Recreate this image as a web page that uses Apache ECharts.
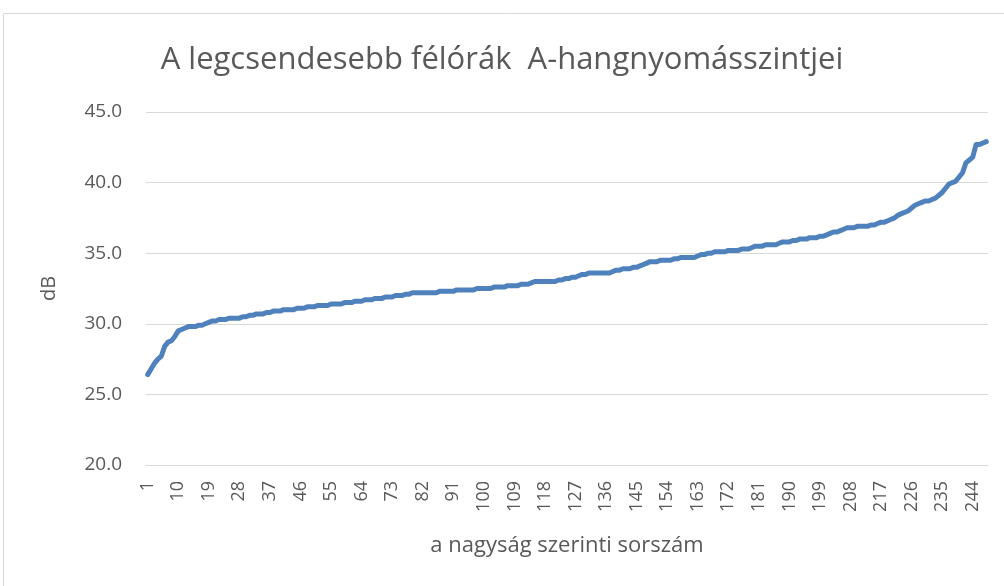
<!DOCTYPE html>
<html>
<head>
<meta charset="utf-8">
<script src="https://cdn.jsdelivr.net/npm/echarts@6/dist/echarts.min.js"></script>
<style>
  html, body { margin: 0; padding: 0; background: #fff; }
  #chart { width: 1004px; height: 586px; }
</style>
</head>
<body>
<div id="chart"></div>
<script>
// sorszám 1..248
const categories = [];
for (let i = 1; i <= 248; i++) categories.push(String(i));

// dB értékek (nagyság szerint rendezve)
const levels = [
  26.4, 26.8, 27.2, 27.5, 27.7, 28.4, 28.7, 28.8, 29.1, 29.5,
  29.6, 29.7, 29.8, 29.8, 29.8, 29.9, 29.9, 30.0, 30.1, 30.2,
  30.2, 30.3, 30.3, 30.3, 30.4, 30.4, 30.4, 30.4, 30.5, 30.5,
  30.6, 30.6, 30.7, 30.7, 30.7, 30.8, 30.8, 30.9, 30.9, 30.9,
  31.0, 31.0, 31.0, 31.0, 31.1, 31.1, 31.1, 31.2, 31.2, 31.2,
  31.3, 31.3, 31.3, 31.3, 31.4, 31.4, 31.4, 31.4, 31.5, 31.5,
  31.5, 31.6, 31.6, 31.6, 31.7, 31.7, 31.7, 31.8, 31.8, 31.8,
  31.9, 31.9, 31.9, 32.0, 32.0, 32.0, 32.1, 32.1, 32.2, 32.2,
  32.2, 32.2, 32.2, 32.2, 32.2, 32.2, 32.3, 32.3, 32.3, 32.3,
  32.3, 32.4, 32.4, 32.4, 32.4, 32.4, 32.4, 32.5, 32.5, 32.5,
  32.5, 32.5, 32.6, 32.6, 32.6, 32.6, 32.7, 32.7, 32.7, 32.7,
  32.8, 32.8, 32.8, 32.9, 33.0, 33.0, 33.0, 33.0, 33.0, 33.0,
  33.0, 33.1, 33.1, 33.2, 33.2, 33.3, 33.3, 33.4, 33.5, 33.5,
  33.6, 33.6, 33.6, 33.6, 33.6, 33.6, 33.6, 33.7, 33.8, 33.8,
  33.9, 33.9, 33.9, 34.0, 34.0, 34.1, 34.2, 34.3, 34.4, 34.4,
  34.4, 34.5, 34.5, 34.5, 34.5, 34.6, 34.6, 34.7, 34.7, 34.7,
  34.7, 34.7, 34.8, 34.9, 34.9, 35.0, 35.0, 35.1, 35.1, 35.1,
  35.1, 35.2, 35.2, 35.2, 35.2, 35.3, 35.3, 35.3, 35.4, 35.5,
  35.5, 35.5, 35.6, 35.6, 35.6, 35.6, 35.7, 35.8, 35.8, 35.8,
  35.9, 35.9, 36.0, 36.0, 36.0, 36.1, 36.1, 36.1, 36.2, 36.2,
  36.3, 36.4, 36.5, 36.5, 36.6, 36.7, 36.8, 36.8, 36.8, 36.9,
  36.9, 36.9, 36.9, 37.0, 37.0, 37.1, 37.2, 37.2, 37.3, 37.4,
  37.5, 37.7, 37.8, 37.9, 38.0, 38.2, 38.4, 38.5, 38.6, 38.7,
  38.7, 38.8, 38.9, 39.1, 39.3, 39.6, 39.9, 40.0, 40.1, 40.4,
  40.7, 41.4, 41.6, 41.8, 42.7, 42.7, 42.8, 42.9
];

const chart = echarts.init(document.getElementById("chart"));
const textColor = "#595959";
const gridColor = "#d9d9d9";

chart.setOption({
  animation: false,
  title: {
    text: "A legcsendesebb félórák  A-hangnyomásszintjei",
    left: "center",
    top: 40,
    textStyle: {
      fontFamily: "Open Sans",
      fontWeight: "normal",
      fontSize: 31,
      color: textColor,
    },
  },
  graphic: [
    {
      type: "rect",
      shape: { x: 3.5, y: 13.5, width: 1010, height: 600 },
      style: { fill: "none", stroke: gridColor, lineWidth: 1 },
      silent: true,
    },
  ],
  grid: {
    left: 146,
    right: 16,
    top: 112,
    bottom: 121,
  },
  xAxis: {
    type: "category",
    data: categories,
    boundaryGap: true,
    name: "a nagyság szerinti sorszám",
    nameLocation: "middle",
    nameGap: 70,
    nameTextStyle: { fontFamily: "Open Sans", fontSize: 22, color: textColor },
    axisLine: { lineStyle: { color: gridColor, width: 1 } },
    axisTick: { show: false },
    axisLabel: {
      interval: 8,
      rotate: 90,
      margin: 16,
      fontFamily: "Open Sans",
      fontSize: 18,
      color: textColor,
    },
    splitLine: { show: false },
  },
  yAxis: {
    type: "value",
    min: 20,
    max: 45,
    interval: 5,
    name: "dB",
    nameLocation: "middle",
    nameGap: 87,
    nameTextStyle: { fontFamily: "Open Sans", fontSize: 20, color: textColor },
    axisLine: { show: false },
    axisTick: { show: false },
    axisLabel: {
      margin: 24,
      fontFamily: "Open Sans",
      fontSize: 19,
      color: textColor,
      formatter: (v) => v.toFixed(1),
    },
    splitLine: { lineStyle: { color: gridColor, width: 1 } },
  },
  series: [
    {
      name: "dB",
      type: "line",
      data: levels,
      showSymbol: false,
      smooth: false,
      lineStyle: { color: "#4f81bd", width: 5, cap: "round", join: "round" },
    },
  ],
});
</script>
</body>
</html>
